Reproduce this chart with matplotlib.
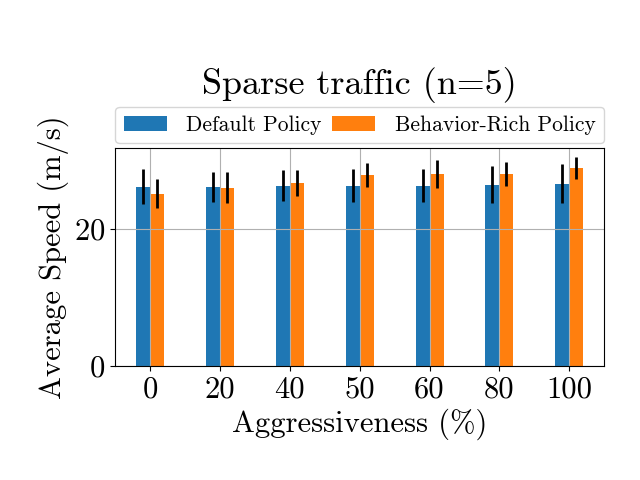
import matplotlib
matplotlib.use('Agg')
import matplotlib.pyplot as plt
import numpy as np

plt.rcParams['font.family'] = 'serif'
plt.rcParams['font.serif'] = ['cmr10']
plt.rcParams['mathtext.fontset'] = 'cm'
plt.rcParams['axes.formatter.use_mathtext'] = True
plt.rcParams['axes.unicode_minus'] = False

aggressiveness = ['0', '20', '40', '50', '60', '80', '100']
default_mean = [26.1, 26.1, 26.3, 26.3, 26.3, 26.4, 26.6]
default_err = [2.55, 2.25, 2.3, 2.4, 2.4, 2.7, 2.9]
rich_mean = [25.1, 26.0, 26.7, 27.9, 28.0, 28.0, 28.8]
rich_err = [2.1, 2.25, 1.9, 1.75, 2.05, 1.75, 1.6]


def main():
	fig, ax = plt.subplots(figsize=(6.4, 4.8), dpi=100)
	x = np.arange(len(aggressiveness))
	width = 0.2
	ax.bar(x - width / 2, default_mean, width, yerr=default_err,
		color='#1f77b4', label='Default Policy',
		error_kw=dict(ecolor='black', elinewidth=2, capsize=0))
	ax.bar(x + width / 2, rich_mean, width, yerr=rich_err,
		color='#ff7f0e', label='Behavior-Rich Policy',
		error_kw=dict(ecolor='black', elinewidth=2, capsize=0))
	ax.set_xticks(x)
	ax.set_xticklabels(aggressiveness)
	ax.set_yticks([0, 20])
	ax.set_xlim(-0.5, 6.5)
	ax.set_ylim(0, 31.8)
	ax.grid(True)
	ax.tick_params(labelsize=22)
	ax.set_xlabel('Aggressiveness (%)', fontsize=22)
	ax.set_ylabel('Average Speed (m/s)', fontsize=22)
	ax.set_title('Sparse traffic (n=5)', fontsize=26, pad=39)
	ax.legend(loc='lower left', bbox_to_anchor=(0.0, 1.02, 1.0, 0.1), ncol=2,
		fontsize=15.5, mode='expand', borderaxespad=0.0, handletextpad=0.9)
	fig.subplots_adjust(left=0.18, right=0.944, bottom=0.2375, top=0.692)
	fig.savefig('out.png')


if __name__ == '__main__':
	main()
